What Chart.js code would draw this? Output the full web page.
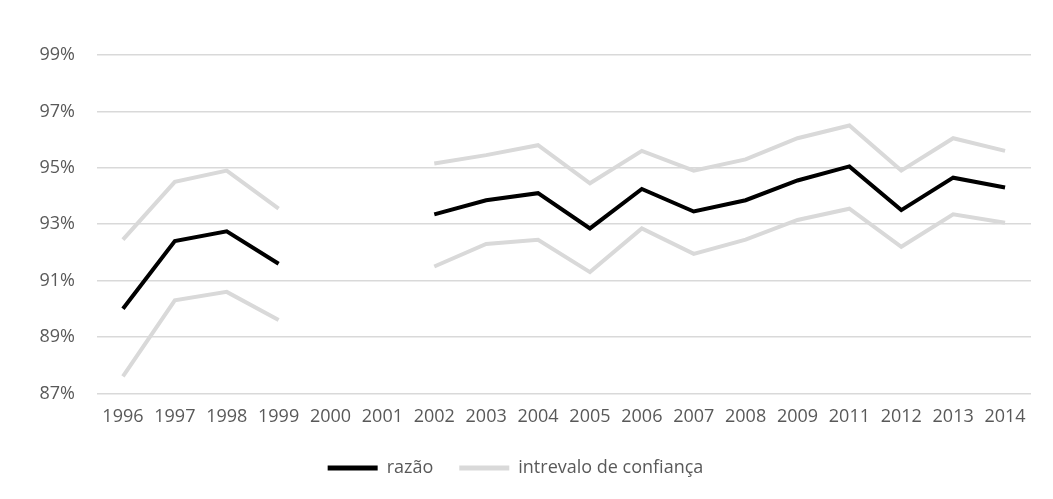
<!DOCTYPE html>
<html>
<head>
<meta charset="utf-8">
<script src="https://cdn.jsdelivr.net/npm/chart.js@4/dist/chart.umd.min.js"></script>
<style>
  html, body { margin: 0; padding: 0; background: #ffffff; }
  #wrap { width: 1053px; height: 499px; }
</style>
</head>
<body>
<div id="wrap"><canvas id="grafico"></canvas></div>
<script>
// anos (2010 não aparece no original) e séries
const anos = ["1996", "1997", "1998", "1999", "2000", "2001", "2002", "2003", "2004",
  "2005", "2006", "2007", "2008", "2009", "2011", "2012", "2013", "2014"];

const razao = [90.0, 92.4, 92.75, 91.6, null, null, 93.35, 93.85, 94.1,
  92.85, 94.25, 93.45, 93.85, 94.55, 95.05, 93.5, 94.65, 94.3];

const limiteSup = [92.45, 94.5, 94.9, 93.55, null, null, 95.15, 95.45, 95.8,
  94.45, 95.6, 94.9, 95.3, 96.05, 96.5, 94.9, 96.05, 95.6];

const limiteInf = [87.6, 90.3, 90.6, 89.6, null, null, 91.5, 92.3, 92.45,
  91.3, 92.85, 91.95, 92.45, 93.15, 93.55, 92.2, 93.35, 93.05];

const ticksY = [87, 89, 91, 93, 95, 97, 99];

const fonte = { family: "'Open Sans', sans-serif", size: 18 };
const cinzaTexto = "#595959";
const cinzaLinha = "#d9d9d9";

const ctx = document.getElementById("grafico");
new Chart(ctx, {
  type: "line",
  data: {
    labels: anos,
    datasets: [
      {
        label: "razão",
        data: razao,
        borderColor: "#000000",
        backgroundColor: "#000000",
        borderWidth: 4,
        pointRadius: 0,
        tension: 0,
        spanGaps: false,
        order: 0,
      },
      {
        label: "intrevalo de confiança",
        data: limiteSup,
        borderColor: cinzaLinha,
        backgroundColor: cinzaLinha,
        borderWidth: 4,
        pointRadius: 0,
        tension: 0,
        spanGaps: false,
        order: 1,
      },
      {
        label: "inferior",
        data: limiteInf,
        borderColor: cinzaLinha,
        backgroundColor: cinzaLinha,
        borderWidth: 4,
        pointRadius: 0,
        tension: 0,
        spanGaps: false,
        order: 1,
      },
    ],
  },
  options: {
    responsive: true,
    maintainAspectRatio: false,
    animation: false,
    layout: { padding: { top: 55, right: 22, left: 0, bottom: 12 } },
    scales: {
      x: {
        offset: true,
        grid: { display: false },
        border: { display: false },
        ticks: {
          color: cinzaTexto,
          font: fonte,
          maxRotation: 0,
          autoSkip: false,
          padding: 5,
        },
      },
      y: {
        min: 87,
        max: 99,
        afterFit: (escala) => { escala.width = 97; },
        afterBuildTicks: (escala) => {
          escala.ticks = ticksY.map((v) => ({ value: v }));
        },
        grid: { color: cinzaLinha, lineWidth: 1.5, drawTicks: false },
        border: { display: false },
        ticks: {
          color: cinzaTexto,
          font: fonte,
          padding: 22,
          callback: (v) => v + "%",
        },
      },
    },
    plugins: {
      legend: {
        position: "bottom",
        labels: {
          color: cinzaTexto,
          font: fonte,
          boxWidth: 50,
          boxHeight: 5,
          padding: 26,
          filter: (item) => item.datasetIndex < 2,
          generateLabels: (chart) =>
            chart.data.datasets.map((ds, i) => ({
              text: ds.label,
              fillStyle: ds.borderColor,
              strokeStyle: ds.borderColor,
              lineWidth: 0,
              fontColor: cinzaTexto,
              hidden: false,
              datasetIndex: i,
            })),
        },
      },
      tooltip: { enabled: false },
    },
  },
});
</script>
</body>
</html>
